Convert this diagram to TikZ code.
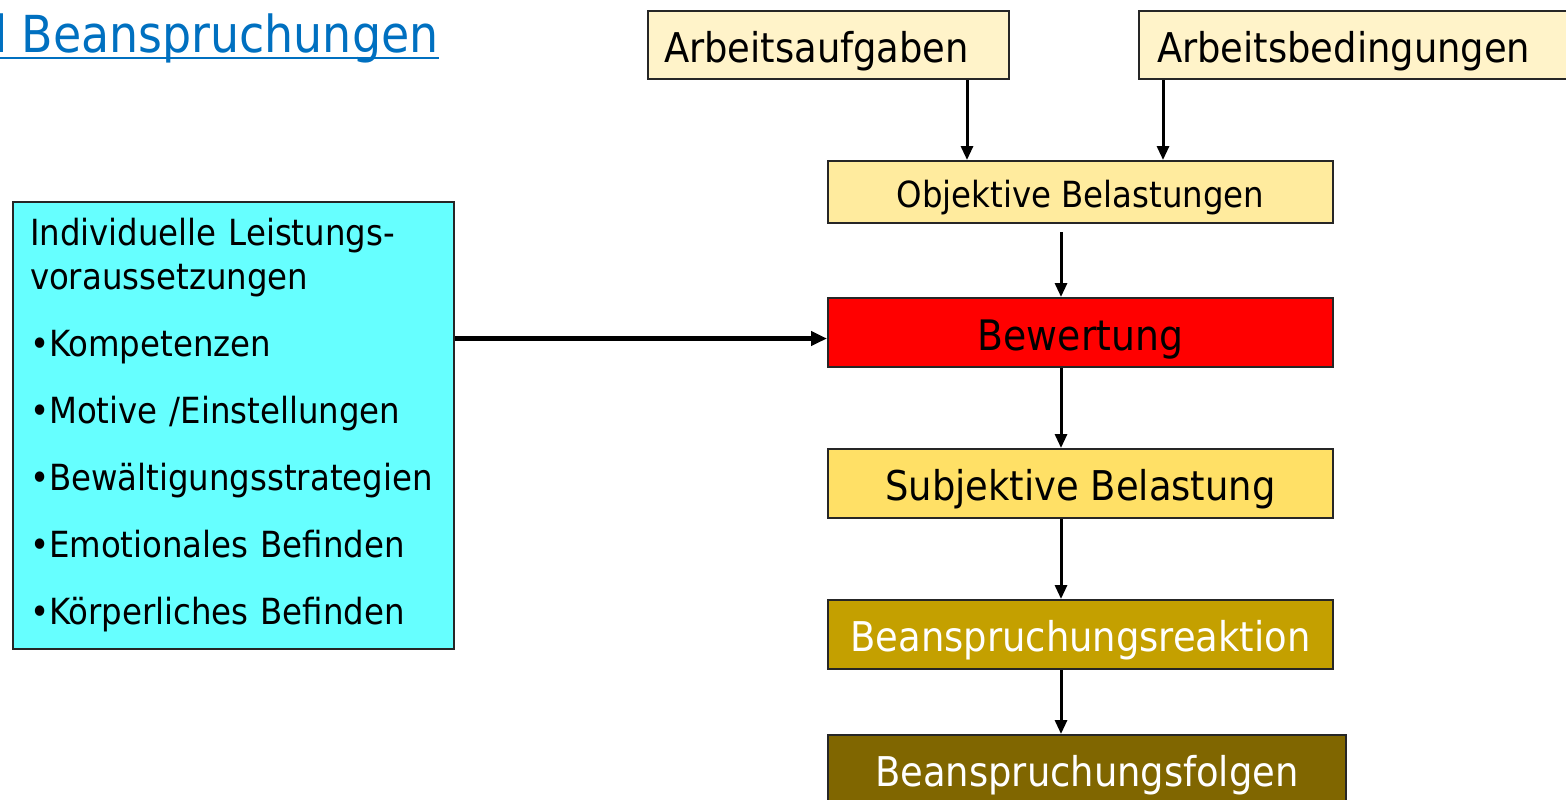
\documentclass[tikz,border=0pt]{standalone}
\usepackage{fontspec}
\setmainfont{DejaVu Sans Condensed}
\usetikzlibrary{arrows.meta}
\definecolor{titleblue}{HTML}{0070C0}
\definecolor{cream}{HTML}{FFF3C9}
\definecolor{lightyellow}{HTML}{FFEB9E}
\definecolor{midyellow}{HTML}{FFE066}
\definecolor{ochre}{HTML}{C4A000}
\definecolor{olive}{HTML}{806600}
\definecolor{cyanbox}{HTML}{66FFFF}
\newcommand{\fs}[1]{\fontsize{#1}{1.2\dimexpr#1pt\relax}\selectfont}

\begin{document}
\begin{tikzpicture}[x=0.5pt,y=-0.5pt,
    box/.style={draw=black!85,line width=1pt,inner sep=0pt,anchor=north west,
      font=\fs{#1},text height=\dimexpr#1pt*95/100\relax,
      text depth=\dimexpr#1pt*10/100\relax},
    arr/.style={line width=1.5pt,-{Triangle[width=6pt,length=7pt]}},
    bigarr/.style={line width=2.5pt,-{Triangle[width=7pt,length=8pt]}}]
  \useasboundingbox (0,0) rectangle (1566,799);
  % heading, cut at the left edge
  \node[anchor=base east,inner sep=0pt,text=titleblue,font=\fs{25.5}]
    (ttl) at (439,52) {d Beanspruchungen};
  \draw[titleblue,line width=1pt] ([yshift=-3pt]ttl.base west) -- ([yshift=-3pt]ttl.base east);
  % top row
  \node[box=20.5,fill=cream,minimum width=180.5pt,minimum height=34pt,
    text width=164.5pt,inner xsep=8pt,align=left]
    (auf) at (647,10) {Arbeitsaufgaben};
  \node[box=20.5,fill=cream,minimum width=214pt,minimum height=34pt,
    text width=196pt,inner xsep=9pt,align=left]
    (bed) at (1138,10) {Arbeitsbedingungen};
  % middle column
  \node[box=18,fill=lightyellow,minimum width=252.5pt,minimum height=31pt]
    (obj) at (827,160) {Objektive Belastungen};
  \node[box=21,fill=red,minimum width=252.5pt,minimum height=34.5pt]
    (bew) at (827,297) {Bewertung};
  \node[box=20.5,fill=midyellow,minimum width=252.5pt,minimum height=34.5pt]
    (sub) at (827,448) {Subjektive Belastung};
  \node[box=20.5,fill=ochre,text=white,minimum width=252.5pt,minimum height=34.5pt]
    (rea) at (827,599) {Beanspruchungsreaktion};
  \node[box=20.5,fill=olive,text=white,minimum width=259pt,minimum height=34.5pt]
    (fol) at (827,734) {Beanspruchungsfolgen};
  % left box
  \node[draw=black!85,line width=1pt,anchor=north west,fill=cyanbox,
    minimum width=220.5pt,minimum height=223.5pt,text width=203.5pt,
    inner xsep=8.5pt,align=left,font=\fontsize{18}{22}\selectfont]
    (ind) at (12,201) {Individuelle Leistungs-\\voraussetzungen\\[11.5pt]
      •Kompetenzen\\[11.5pt]
      •Motive /Einstellungen\\[11.5pt]
      •Bewältigungsstrategien\\[11.5pt]
      •Emotionales Befinden\\[11.5pt]
      •Körperliches Befinden};
  % arrows
  \coordinate (a1) at (967,0);
  \coordinate (a2) at (1163,0);
  \coordinate (m) at (1061,0);
  \draw[arr] (auf.south -| a1) -- (obj.north -| a1);
  \draw[arr] (bed.south -| a2) -- (obj.north -| a2);
  \draw[arr] ([yshift=-4pt]obj.south -| m) -- (bew.north -| m);
  \draw[arr] (bew.south -| m) -- (sub.north -| m);
  \draw[arr] (sub.south -| m) -- (rea.north -| m);
  \draw[arr] (rea.south -| m) -- (fol.north -| m);
  \draw[bigarr] ([yshift=-3pt]ind.east |- bew.west) -- ([yshift=-3pt]bew.west);
\end{tikzpicture}
\end{document}
